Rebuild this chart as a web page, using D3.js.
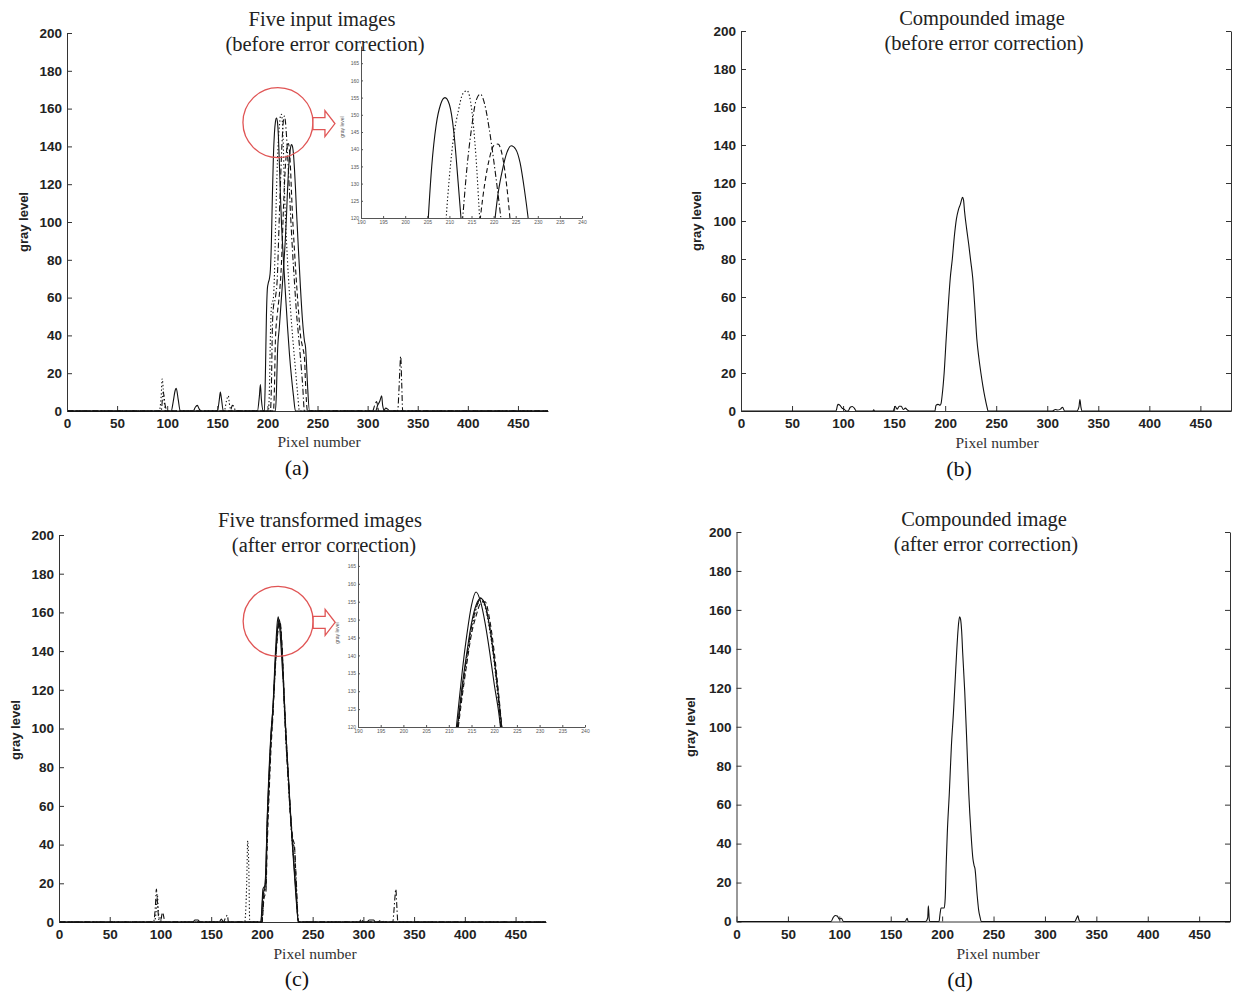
<!DOCTYPE html>
<html>
<head>
<meta charset="utf-8">
<script src="https://cdn.jsdelivr.net/npm/d3@7"></script>
<style>
  body { margin: 0; background: #fff; }
  .axis .domain, .axis line { stroke: #333; stroke-width: 1; }
  .axis text { font-family: "Liberation Sans", Arial, sans-serif; font-size: 13.5px; font-weight: bold; fill: #222; }
  .inset .domain, .inset line { stroke: #555; stroke-width: 1; }
  .inset text { font-family: "Liberation Sans", Arial, sans-serif; font-size: 5px; fill: #555; }
</style>
</head>
<body>
<script>
// ---------- data ----------
const xTicks = [0, 50, 100, 150, 200, 250, 300, 350, 400, 450];
const yTicks = [0, 20, 40, 60, 80, 100, 120, 140, 160, 180, 200];
const insetXTicks = [190, 195, 200, 205, 210, 215, 220, 225, 230, 235, 240];
const insetYTicks = [120, 125, 130, 135, 140, 145, 150, 155, 160, 165];

const xLabel = "Pixel number";
const yLabel = "gray level";
const titles = {
  a: ["Five input images", "(before error correction)"],
  b: ["Compounded image", "(before error correction)"],
  c: ["Five transformed images", "(after error correction)"],
  d: ["Compounded image", "(after error correction)"]
};
const tags = { a: "(a)", b: "(b)", c: "(c)", d: "(d)" };

// (a) five input images, before error correction  [pixel, gray level]
const inputSolid1 = [[1,0],[104,0],[106,5],[108,11],[109,12],[111,6],[113,0],[150,0],[152,6],[153,10],[154,7],[156,0],
  [190,0],[192,8],[193,14],[194,6],[196,0],[197,0],[198,20],[199,50],[200,65],[201,68],[202,70],[203,75],[204,90],
  [205,115],[206,135],[207,147],[208,153],[209,155],[210,153],[211,145],[212,130],[213,114],[214,100],[216,80],
  [218,62],[220,45],[222,30],[224,18],[226,8],[228,0],[308,0],[310,3],[312,5],[314,8],[315,3],[317,0],[480,0]];
const inputDotted = [[1,0],[92,0],[94,8],[95,17],[96,12],[97,5],[99,0],[157,0],[159,5],[161,8],[162,4],[164,0],
  [201,0],[202,12],[203,40],[204,55],[206,60],[207,72],[208,95],[209,115],[210,132],[211,144],[212,151],[213,156],
  [214,157],[215,152],[216,138],[217,117],[218,102],[220,80],[222,62],[224,47],[226,34],[228,22],[230,10],[232,0],[480,0]];
const inputDashDot = [[1,0],[94,0],[96,10],[98,3],[100,0],[163,0],[165,3],[167,2],[168,0],
  [203,0],[204,14],[205,45],[206,55],[208,60],[210,72],[211,88],[212,105],[213,120],[214,135],[215,146],[216,154],
  [217,156],[218,153],[219,146],[220,137],[221,127],[222,116],[223,105],[225,85],[227,68],[229,52],[231,40],[233,28],
  [235,15],[237,0],[330,0],[331,8],[332,20],[333,29],[334,15],[335,0],[480,0]];
const inputDashed = [[1,0],[205,0],[206,0],[207,12],[208,38],[210,52],[212,62],[214,78],[215,92],[216,107],[217,120],
  [218,130],[219,137],[220,141],[221,141.5],[222,138],[223,129],[224,116],[225,104],[227,85],[229,68],[231,53],[233,40],
  [235,34],[237,28],[238,15],[240,0],[305,0],[307,3],[309,5],[311,0],[480,0]];
const inputSolid2 = [[1,0],[126,0],[128,2],[130,3],[132,1],[134,0],[208,0],[209,10],[210,30],[212,45],[214,60],[216,75],
  [218,92],[219,103],[220,116],[221,127],[222,134],[223,139],[224,141],[225,140],[226,136],[227,128],[228,118],[229,106],
  [231,85],[233,65],[235,48],[237,37],[238,34],[239,25],[240,14],[242,0],[316,0],[318,1.5],[320,1],[322,0],[480,0]];

// (b) compounded image, before error correction
const compoundBefore = [[1,0],[93,0],[95,3.5],[97,3],[99,1.5],[101,1],[103,0],[105,0],[107,2],[109,2.4],[111,1.5],[113,0],
  [129,0],[130,0.6],[131,0],[149,0],[151,2.5],[153,1],[155,2.5],[157,2.5],[159,0.8],[161,1.5],[163,0.5],[165,0],
  [190,0],[191,3],[193,3.5],[195,3],[196,4],[197,8],[199,20],[201,38],[203,55],[205,70],[207,80],[209,92],[211,101],
  [213,106],[215,109],[216,111],[217,112.5],[218,111],[219,105],[221,96],[223,88],[225,79],[227,70],[229,55],[231,38],
  [233,28],[235,20],[237,13],[239,7],[241,2],[242,0],[305,0],[308,0.8],[310,0.5],[313,1],[315,2],[317,0],
  [329,0],[331,2],[332,6],[333,2],[334,0],[480,0]];

// (c) five transformed images, after error correction
const transSolid1 = [[1,0],[132,0],[134,1],[137,1],[139,0],[199,0],[200,8],[201,17],[203,19],[204,30],[205,50],[207,78],
  [209,98],[211,112],[212,124],[213,136],[214,146],[215,154],[216,157.7],[217,155],[218,149],[219,141],[220,132],[221,124],
  [222,113],[224,92],[226,75],[228,57],[230,40],[232,25],[234,10],[236,0],[303,0],[306,1],[310,1],[312,0],[480,0]];
const transDotted = [[1,0],[94,0],[96,7],[97,14],[98,5],[100,0],[183,0],[185,20],[186,42],[187,30],[188,0],[200,0],
  [201,10],[202,16],[204,22],[205,45],[207,72],[209,95],[211,110],[212,120],[213,130],[214,139],[215,147],[216,153],
  [217,155.5],[218,153.5],[219,147],[220,138],[221,126],[222,113],[224,93],[226,75],[228,56],[230,40],[232,28],[234,14],
  [236,0],[480,0]];
const transDashDot = [[1,0],[93,0],[95,8],[96,17],[97,10],[98,3],[99,0],[162,0],[164,2],[166,3.5],[167,0],[200,0],
  [202,15],[204,18],[205,40],[207,70],[209,94],[211,110],[212,121],[213,131],[214,140],[215,148],[216,153],[217,156],
  [218,154],[219,148],[220,139],[221,127],[222,112],[224,90],[226,72],[228,55],[230,42],[232,38],[234,20],[236,0],
  [296,0],[298,1.5],[300,0],[329,0],[330,5],[331,12],[332,17],[333,8],[334,0],[480,0]];
const transDashed = [[1,0],[100,0],[102,5],[104,1],[105,0],[200,0],[202,12],[204,16],[205,35],[207,65],[209,90],[211,108],
  [212,119],[213,129],[214,138],[215,146],[216,151],[217,154.5],[218,155],[219,150],[220,141],[221,129],[222,116],[224,95],
  [226,76],[228,58],[230,45],[231,42],[232,40],[233,30],[234,15],[235,5],[236,0],[314,0],[318,1],[320,0],[480,0]];
const transSolid2 = [[1,0],[158,0],[160,1.5],[162,0],[199,0],[201,14],[203,18],[204,28],[205,48],[207,75],[209,97],
  [211,112],[212,121],[213,132],[214,141],[215,149],[216,154],[217,156],[218,154],[219,148],[220,139],[221,128],[222,116],
  [224,94],[226,76],[228,58],[230,42],[232,27],[234,12],[236,0],[480,0]];

// (d) compounded image, after error correction
const compoundAfter = [[1,0],[92,0],[94,2],[96,3.1],[98,2.8],[100,1.2],[102,1.7],[104,0],[164,0],[166,1.7],[167,0],
  [184,0],[186,2],[186.6,8],[187.5,1],[188,0],[197,0],[198,4],[199,6.9],[202,6.9],[203,12],[204,30],[205,45],[207,66],
  [209,90],[211,107],[213,127],[215,146],[216,153],[217,156.5],[218,155],[219,149],[220,138],[222,118],[224,92],[226,65],
  [228,46],[230,32],[231,29],[232,27],[234,14],[235.5,6],[237,2],[238,0],[329,0],[331,2],[332,2.9],[333,1],[334,0],[480,0]];

// ---------- layout ----------
const dashes = { solid: null, dotted: "1.3,2.3", dashdot: "6,2.5,1.3,2.5", dashed: "5,3" };

const panels = [
  { id: "a", left: 67, right: 548, top: 33, bottom: 411, box: false,
    series: [[inputSolid1, "solid"], [inputDotted, "dotted"], [inputDashDot, "dashdot"], [inputDashed, "dashed"], [inputSolid2, "solid"]],
    title: [[322, 26], [325, 51]], ylab: [28, 222], xlab: [319, 447], tag: [297, 475],
    inset: { left: 361, right: 582, top: 46, bottom: 218, ylab: [344, 127] },
    zoom: { x: 210.5, y: 152.6, r: 35 } },
  { id: "b", left: 741, right: 1231, top: 31, bottom: 411, box: true,
    series: [[compoundBefore, "solid"]],
    title: [[982, 25], [984, 50]], ylab: [701, 221], xlab: [997, 448], tag: [959, 476] },
  { id: "c", left: 59, right: 546, top: 535, bottom: 922, box: false,
    series: [[transSolid1, "solid"], [transDotted, "dotted"], [transDashDot, "dashdot"], [transDashed, "dashed"], [transSolid2, "solid"]],
    title: [[320, 527], [324, 552]], ylab: [20, 730], xlab: [315, 959], tag: [297, 986],
    inset: { left: 358, right: 585, top: 548, bottom: 727, ylab: [339, 633] },
    zoom: { x: 216, y: 155.4, r: 35 } },
  { id: "d", left: 736.5, right: 1230, top: 532, bottom: 921.5, box: true,
    series: [[compoundAfter, "solid"]],
    title: [[984, 526], [986, 551]], ylab: [695, 727], xlab: [998, 959], tag: [960, 987] }
];

const svg = d3.select("body").append("svg").attr("width", 1239).attr("height", 996);

function drawPanel(p) {
  const g = svg.append("g");
  const x = d3.scaleLinear().domain([0, 480]).range([p.left, p.right]);
  const y = d3.scaleLinear().domain([0, 200]).range([p.bottom, p.top]);

  g.append("g").attr("class", "axis").attr("transform", `translate(0,${p.bottom})`)
    .call(d3.axisBottom(x).tickValues(xTicks).tickSizeInner(-5).tickSizeOuter(0).tickPadding(7.5));
  g.append("g").attr("class", "axis").attr("transform", `translate(${p.left},0)`)
    .call(d3.axisLeft(y).tickValues(yTicks).tickSizeInner(-5).tickSizeOuter(0).tickPadding(5));
  if (p.box) {
    g.append("g").attr("class", "axis").attr("transform", `translate(${p.right},0)`)
      .call(d3.axisRight(y).tickValues(yTicks).tickSizeInner(-5).tickSizeOuter(0).tickFormat(""));
  }

  const line = d3.line().x(d => x(d[0])).y(d => y(d[1])).curve(d3.curveMonotoneX);
  p.series.forEach(([data, style]) => {
    g.append("path").attr("d", line(data))
      .attr("fill", "none").attr("stroke", "#111").attr("stroke-width", 1.1)
      .attr("stroke-dasharray", dashes[style]);
  });

  if (p.inset) drawInset(g, p);

  if (p.zoom) {
    const cx = x(p.zoom.x), cy = y(p.zoom.y), r = p.zoom.r;
    g.append("circle").attr("cx", cx).attr("cy", cy).attr("r", r)
      .attr("fill", "none").attr("stroke", "#e05555").attr("stroke-width", 1.3);
    const ax = cx + r, ay = cy + 1;
    const arrow = [[ax, ay - 6], [ax + 12, ay - 6], [ax + 12, ay - 13], [ax + 22, ay],
      [ax + 12, ay + 13], [ax + 12, ay + 6], [ax, ay + 6]];
    g.append("path").attr("d", d3.line()(arrow) + "Z")
      .attr("fill", "#fff").attr("stroke", "#e05555").attr("stroke-width", 1.3);
  }

  const serif = "'Liberation Serif', 'Times New Roman', serif";
  p.title.forEach((pos, i) => {
    g.append("text").attr("x", pos[0]).attr("y", pos[1]).attr("text-anchor", "middle")
      .attr("font-family", serif).attr("font-size", 20.5).attr("fill", "#222").text(titles[p.id][i]);
  });
  g.append("text").attr("transform", `translate(${p.ylab[0]},${p.ylab[1]}) rotate(-90)`)
    .attr("text-anchor", "middle").attr("font-family", "'Liberation Sans', Arial, sans-serif")
    .attr("font-size", 13).attr("font-weight", "bold").attr("fill", "#222").text(yLabel);
  g.append("text").attr("x", p.xlab[0]).attr("y", p.xlab[1]).attr("text-anchor", "middle")
    .attr("font-family", serif).attr("font-size", 15.5).attr("fill", "#333").text(xLabel);
  g.append("text").attr("x", p.tag[0]).attr("y", p.tag[1]).attr("text-anchor", "middle")
    .attr("font-family", serif).attr("font-size", 22).attr("fill", "#111").text(tags[p.id]);
}

function drawInset(g, p) {
  const q = p.inset;
  const ix = d3.scaleLinear().domain([190, 240]).range([q.left, q.right]);
  const iy = d3.scaleLinear().domain([120, 170]).range([q.bottom, q.top]);
  const clipId = "clip-" + p.id;
  g.append("clipPath").attr("id", clipId).append("rect")
    .attr("x", q.left).attr("y", q.top).attr("width", q.right - q.left).attr("height", q.bottom - q.top);

  g.append("g").attr("class", "inset").attr("transform", `translate(0,${q.bottom})`)
    .call(d3.axisBottom(ix).tickValues(insetXTicks).tickSizeInner(-2).tickSizeOuter(0).tickPadding(2));
  g.append("g").attr("class", "inset").attr("transform", `translate(${q.left},0)`)
    .call(d3.axisLeft(iy).tickValues(insetYTicks).tickSizeInner(-2).tickSizeOuter(0).tickPadding(2));

  const line = d3.line().x(d => ix(d[0])).y(d => iy(d[1])).curve(d3.curveMonotoneX);
  const lines = g.append("g").attr("clip-path", `url(#${clipId})`);
  p.series.forEach(([data, style]) => {
    lines.append("path").attr("d", line(data))
      .attr("fill", "none").attr("stroke", "#111").attr("stroke-width", 1.1)
      .attr("stroke-dasharray", dashes[style]);
  });

  g.append("text").attr("transform", `translate(${q.ylab[0]},${q.ylab[1]}) rotate(-90)`)
    .attr("text-anchor", "middle").attr("font-family", "'Liberation Sans', Arial, sans-serif")
    .attr("font-size", 5).attr("fill", "#555").text(yLabel);
}

panels.forEach(drawPanel);
</script>
</body>
</html>
